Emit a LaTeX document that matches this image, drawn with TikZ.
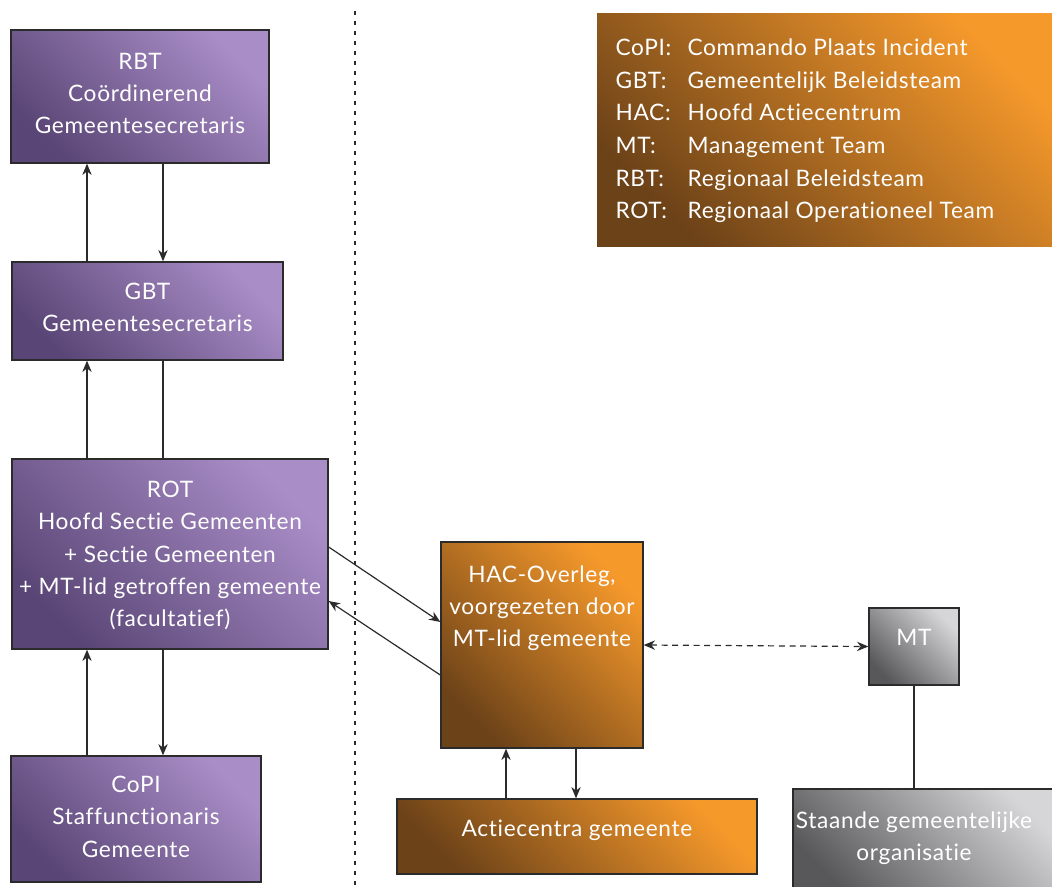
\documentclass[tikz,border=0pt]{standalone}
\usepackage{fontspec}
\setmainfont{Lato}[LetterSpace=3.0, Ligatures={NoCommon, NoRare}]
\usepackage{xcolor}
\usetikzlibrary{arrows.meta,calc,fit,positioning}
\definecolor{purpleDark}{HTML}{5A4676}
\definecolor{purpleLight}{HTML}{A98DC7}
\definecolor{orangeDark}{HTML}{6C4218}
\definecolor{orangeLight}{HTML}{F6992B}
\definecolor{grayDark}{HTML}{58585B}
\definecolor{grayLight}{HTML}{D6D6D8}
\definecolor{edge}{HTML}{2B2B2B}
\newcommand{\boxfont}{\fontsize{17}{24.2}\selectfont}
\tikzset{
	box/.style={draw=edge, line width=1pt, inner sep=0pt},
	arr/.style={-{Stealth[length=8.5pt, width=7pt]}, line width=0.9pt, draw=edge},
	dblarr/.style={{Stealth[length=8.5pt, width=7pt]}-{Stealth[length=8.5pt, width=7pt]}, line width=0.9pt, draw=edge, dash pattern=on 4.5pt off 3.5pt}
}
\tikzstyle{purpleshading}=[shading=axis, bottom color=purpleDark, top color=purpleLight, shading angle=-45]
\tikzstyle{orangeshading}=[shading=axis, bottom color=orangeDark, top color=orangeLight, shading angle=-45]
\tikzstyle{grayshading}=[shading=axis, bottom color=grayDark, top color=grayLight, shading angle=-45]
\tikzstyle{inlbl}=[text=white, align=center, font=\boxfont, anchor=north, inner sep=0pt]

\begin{document}
\begin{tikzpicture}[x=0.75pt, y=-0.75pt]
	\useasboundingbox (0,0) rectangle (1052,886);
	\draw[line width=0.8pt, edge, dash pattern=on 3pt off 4.5pt] (355,11) -- (355,886);

	\node[box, purpleshading, fit={(11,30) (269,163)},
		label={[inlbl, yshift=-17.5pt]north:{RBT\\Coördinerend\\Gemeentesecretaris}}] (rbt) {};
	\node[box, purpleshading, fit={(12,262) (283,360)},
		label={[inlbl, yshift=-16pt]north:{GBT\\Gemeentesecretaris}}] (gbt) {};
	\node[box, purpleshading, fit={(12,459) (328,649)},
		label={[inlbl, yshift=-17pt]north:{ROT\\Hoofd Sectie Gemeenten\\+ Sectie Gemeenten\\+ MT-lid getroffen gemeente\\(facultatief)}}] (rot) {};
	\node[box, purpleshading, fit={(11,756) (261,882)},
		label={[inlbl, yshift=-15.5pt]north:{CoPI\\Staffunctionaris\\Gemeente}}] (copi) {};

	\node[box, orangeshading, fit={(441,542) (643,748)},
		label={[inlbl, yshift=-17.8pt]north:{HAC-Overleg,\\voorgezeten door\\MT-lid gemeente}}] (hac) {};
	\node[box, orangeshading, fit={(397,799) (757,874)},
		label={[inlbl, yshift=-15.8pt]north:{Actiecentra gemeente}}] (actie) {};
	\node[box, grayshading, fit={(869,608) (959,685)},
		label={[inlbl, yshift=-16.5pt]north:MT}] (mt) {};
	\node[box, grayshading, fit={(793,789) (1062,896)}] (staande) {};
	\node[inlbl, yshift=-17.5pt] (staandetxt) at (mt.south |- staande.north) {Staande gemeentelijke\\organisatie};

	\node[box, orangeshading, draw=none, fit={(597,13) (1060,246)}] (legend) {};
	\node[anchor=west, text=white, inner sep=0pt] (legendtxt) at ($(legend.west)+(19,1)$) {%
		\fontsize{17}{24.5}\selectfont
		\begin{tabular}{@{}p{54pt}@{}l@{}}
			CoPI: & Commando Plaats Incident\\
			GBT: & Gemeentelijk Beleidsteam\\
			HAC: & Hoofd Actiecentrum\\
			MT: & Management Team\\
			RBT: & Regionaal Beleidsteam\\
			ROT: & Regionaal Operationeel Team
		\end{tabular}};

	\coordinate (colA) at (87,0);
	\coordinate (colB) at (163,0);
	\coordinate (colC) at (506,0);
	\coordinate (colD) at (576,0);

	\draw[arr] (gbt.north -| colA) -- (rbt.south -| colA);
	\draw[arr] (rbt.south -| colB) -- (gbt.north -| colB);
	\draw[arr] (rot.north -| colA) -- (gbt.south -| colA);
	\draw[line width=0.9pt, edge] (gbt.south -| colB) -- (rot.north -| colB);
	\draw[arr] (copi.north -| colA) -- (rot.south -| colA);
	\draw[arr] (rot.south -| colB) -- (copi.north -| colB);

	\draw[arr] ($(rot.east)+(0,-7)$) -- ($(hac.west)+(0,-23)$);
	\draw[arr] ($(hac.west)+(0,30)$) -- ($(rot.east)+(0,47)$);
	\draw[arr] (actie.north -| colC) -- (hac.south -| colC);
	\draw[arr] (hac.south -| colD) -- (actie.north -| colD);
	\draw[dblarr] (hac.east) -- (mt.west);
	\draw[line width=0.9pt, edge] (mt.south) -- (mt.south |- staande.north);
\end{tikzpicture}
\end{document}
